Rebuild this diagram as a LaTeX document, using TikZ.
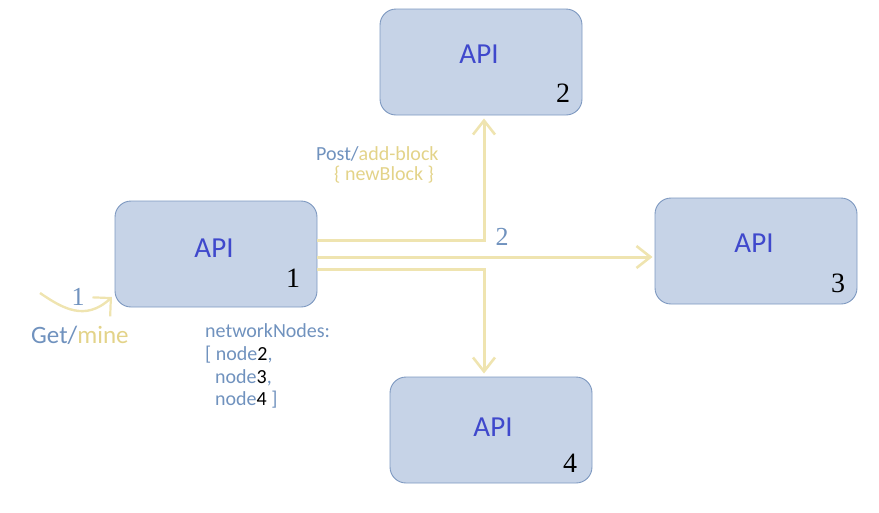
\documentclass[tikz,border=0pt]{standalone}
\usepackage{fontspec}
\newfontfamily\calfont{Carlito}
\newfontfamily\numfont{Liberation Serif}
\usetikzlibrary{arrows.meta,calc}
\definecolor{boxfill}{HTML}{C6D3E7}
\definecolor{boxline}{HTML}{7D98C0}
\definecolor{apiblue}{HTML}{3F48CC}
\definecolor{bluegrey}{HTML}{7092BE}
\definecolor{lightyel}{HTML}{EFE4B0}
\definecolor{yeltext}{HTML}{E3D389}
\tikzset{
  apibox/.style={draw=boxline, fill=boxfill, line width=0.9pt, rounded corners=16pt,
    minimum width=202pt, minimum height=106pt, inner sep=0pt},
  apitext/.style={anchor=base, text=apiblue, font=\calfont\fontsize{29}{32}\selectfont, inner sep=0pt},
  boxnum/.style={anchor=base, text=black, font=\numfont\fontsize{28}{32}\selectfont, inner sep=0pt},
  conn/.style={draw=lightyel, line width=3pt, -{Straight Barb[length=14pt,width=22pt,line width=2.6pt]}},
  lbl/.style={anchor=base west, inner sep=0pt, font=\calfont\fontsize{20}{23}\selectfont, text=bluegrey},
  bignum/.style={anchor=base, inner sep=0pt, text=bluegrey, font=\numfont\fontsize{26}{28}\selectfont}
}
\begin{document}
\begin{tikzpicture}[x=1pt,y=-1pt]
\useasboundingbox (0,0) rectangle (879,512);
% boxes
\node[apibox] (b1) at (216,254) {};
\node[apibox] (b2) at (481,62) {};
\node[apibox] (b3) at (756,251) {};
\node[apibox] (b4) at (491,430) {};
% API texts
\node[apitext] (t1) at (214,257) {API};
\node[apitext] (t2) at (479,63) {API};
\node[apitext] (t3) at (754,252) {API};
\node[apitext] (t4) at (493,436) {API};
% numbers in boxes
\node[boxnum] (n1) at (293,287) {1};
\node[boxnum] (n2) at (563,102) {2};
\node[boxnum] (n3) at (838,292) {3};
\node[boxnum] (n4) at (570,472) {4};
% connectors
\draw[conn, shorten >=3pt] ($(b1.east)+(0,-14)$) -| ([xshift=3pt]b2.south);
\draw[conn, shorten >=2pt] ($(b1.east)+(0,3)$) -- ($(b3.west)+(0,6)$);
\draw[conn, shorten >=3pt] ($(b1.east)+(0,15)$) -| ([xshift=-7pt]b4.north);
% labels near arrows
\node[bignum] (l2) at (502,245) {2};
\node[lbl] (post) at (316,160) {Post/\textcolor{yeltext}{add-block}};
\node[lbl, text=yeltext] (nb) at (334,180) {\{ newBlock \}};
% incoming arrow
\coordinate (c0) at (40,293);
\coordinate (c1) at (112,297);
\draw[conn, line width=2.4pt, -{Straight Barb[length=13pt,width=26pt,line width=2.2pt]}] (c0) .. controls (62,308) and (85,322) .. (c1);
\node[bignum] (l1) at (78,305) {1};
\node[lbl, font=\calfont\fontsize{25}{28}\selectfont] (get) at (31,343) {Get/\textcolor{yeltext}{mine}};
% network nodes
\node[lbl] (nn1) at (205,337) {networkNodes:};
\node[lbl] (nn2) at (205,360) {[ node\textcolor{black}{2},};
\node[lbl] (nn3) at (215,383) {node\textcolor{black}{3},};
\node[lbl] (nn4) at (215,405) {node\textcolor{black}{4} ]};
\end{tikzpicture}
\end{document}
